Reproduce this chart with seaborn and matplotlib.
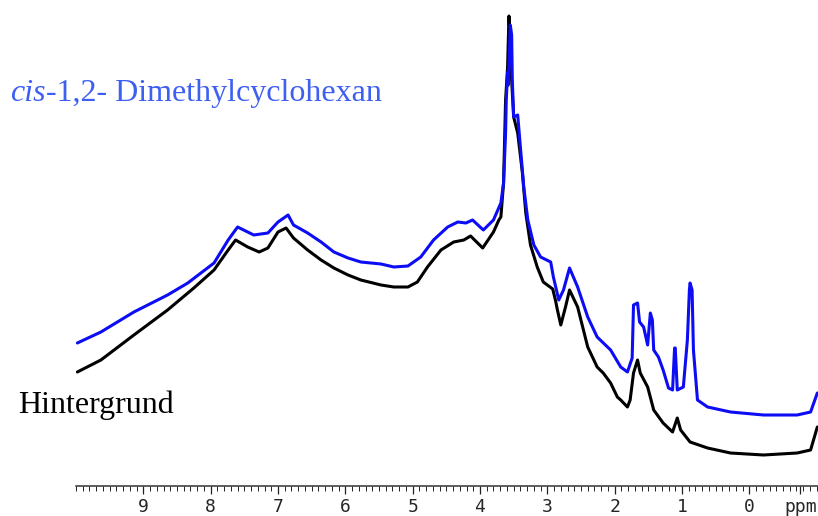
import matplotlib
matplotlib.use("Agg")
import matplotlib.pyplot as plt
import seaborn as sns
import pandas as pd
import numpy as np

# ---- data (chemical shift in ppm, intensity in arbitrary units)
bg_ppm = [9.98, 9.63, 9.14, 8.64, 8.25, 7.95, 7.74, 7.63, 7.45, 7.28, 7.15, 7.00, 6.88, 6.77,
          6.56, 6.36, 6.17, 5.96, 5.77, 5.47, 5.28, 5.07, 4.93, 4.78, 4.58, 4.39, 4.24, 4.14,
          3.96, 3.80, 3.72, 3.69, 3.65, 3.62, 3.59, 3.57, 3.55, 3.53, 3.50, 3.44, 3.37, 3.32,
          3.25, 3.15, 3.06, 2.92, 2.88, 2.85, 2.80, 2.73, 2.67, 2.55, 2.40, 2.26, 2.17, 2.06,
          1.96, 1.91, 1.81, 1.77, 1.72, 1.66, 1.62, 1.51, 1.42, 1.28, 1.14, 1.07, 1.02, 0.88,
          0.62, 0.28, -0.21, -0.71, -0.91, -1.01]
bg_int = [114, 126, 151, 176, 198, 216, 236, 246, 239, 234, 238, 254, 258, 248,
          236, 226, 218, 211, 206, 201, 199, 199, 204, 219, 236, 244, 246, 250,
          238, 254, 266, 269, 303, 386, 419, 470, 446, 406, 369, 353, 313, 273,
          241, 219, 204, 197, 186, 176, 161, 179, 196, 179, 139, 119, 113, 103,
          89, 86, 79, 86, 113, 126, 113, 99, 76, 63, 54, 68, 56, 44,
          38, 33, 31, 33, 36, 59]

cis_ppm = [9.98, 9.63, 9.14, 8.64, 8.34, 7.95, 7.74, 7.60, 7.36, 7.15, 7.00, 6.85, 6.77,
           6.56, 6.36, 6.17, 5.96, 5.77, 5.47, 5.28, 5.07, 4.88, 4.69, 4.48, 4.33, 4.21,
           4.11, 3.95, 3.80, 3.69, 3.65, 3.62, 3.61, 3.59, 3.58, 3.55, 3.53, 3.52, 3.50,
           3.44, 3.40, 3.35, 3.29, 3.20, 3.10, 2.95, 2.91, 2.83, 2.76, 2.67, 2.55, 2.40,
           2.26, 2.06, 1.91, 1.81, 1.74, 1.72, 1.66, 1.63, 1.57, 1.51, 1.47, 1.44, 1.42,
           1.35, 1.28, 1.20, 1.14, 1.11, 1.10, 1.07, 0.98, 0.92, 0.89, 0.88, 0.85, 0.83,
           0.77, 0.62, 0.28, -0.21, -0.71, -0.91, -1.01]
cis_int = [143, 154, 174, 191, 203, 223, 246, 259, 251, 253, 264, 271, 261,
           253, 244, 234, 228, 224, 222, 219, 220, 229, 246, 259, 264, 263,
           266, 256, 266, 283, 303, 353, 386, 414, 401, 461, 451, 406, 369,
           371, 339, 299, 266, 241, 229, 224, 209, 186, 196, 218, 199, 169,
           149, 136, 119, 114, 128, 181, 183, 164, 159, 141, 173, 166, 136,
           129, 116, 98, 96, 138, 138, 96, 99, 146, 196, 203, 196, 136,
           86, 79, 74, 71, 71, 74, 93]

major_ticks = [9, 8, 7, 6, 5, 4, 3, 2, 1, 0]
tick_labels = ["9", "8", "7", "6", "5", "4", "3", "2", "1", "0"]
unit_pos = -0.76
unit_label = "ppm"
series_names = ["Hintergrund", "cis-1,2- Dimethylcyclohexan"]

df = pd.concat([
    pd.DataFrame({"ppm": bg_ppm, "intensity": bg_int, "series": series_names[0]}),
    pd.DataFrame({"ppm": cis_ppm, "intensity": cis_int, "series": series_names[1]}),
], ignore_index=True)

sns.set_style("white")
plt.rcParams["font.family"] = ["DejaVu Sans"]

fig = plt.figure(figsize=(8.18, 5.16), dpi=100)
ax = fig.add_axes([76 / 818, 30 / 516, 742 / 818, 486 / 516])

sns.lineplot(data=df, x="ppm", y="intensity", hue="series", estimator=None, sort=False,
             palette={series_names[0]: "#000000", series_names[1]: "#0c0cf5"},
             linewidth=2.2, legend=False, ax=ax)

ax.set_xlim(10.0, -1.02)
ax.set_ylim(0, 486)
ax.set_xlabel("")
ax.set_ylabel("")
ax.set_yticks([])
for s in ["left", "right", "top"]:
    ax.spines[s].set_visible(False)
ax.spines["bottom"].set_linewidth(1.1)
ax.spines["bottom"].set_color("#333333")

ax.set_xticks(major_ticks + [unit_pos])
ax.set_xticklabels(tick_labels + [unit_label], family="DejaVu Sans Mono", fontsize=13)
ax.xaxis.get_major_ticks()[-1].tick1line.set_visible(False)
ax.set_xticks(np.round(np.arange(-1.0, 10.01, 0.1), 2), minor=True)
ax.tick_params(axis="x", which="major", direction="out", length=6, width=0.9, pad=3,
               bottom=True, color="#222222")
ax.tick_params(axis="x", which="minor", direction="out", length=3.5, width=0.7,
               bottom=True, color="#222222")

# labels
serif = ["Liberation Serif", "DejaVu Serif"]
t1 = fig.text(10 / 818, 1 - 101 / 516, "cis", family=serif, style="italic", fontsize=23,
              color="#3d5ff2", ha="left", va="baseline")
fig.canvas.draw()
bb = t1.get_window_extent(fig.canvas.get_renderer())
fig.text(bb.x1 / 818, 1 - 101 / 516, "-1,2- Dimethylcyclohexan", family=serif, fontsize=23,
         color="#3d5ff2", ha="left", va="baseline")
fig.text(18 / 818, 1 - 413 / 516, "Hintergrund", family=serif, fontsize=23,
         color="#000000", ha="left", va="baseline")

fig.savefig("out.png", dpi=100)
